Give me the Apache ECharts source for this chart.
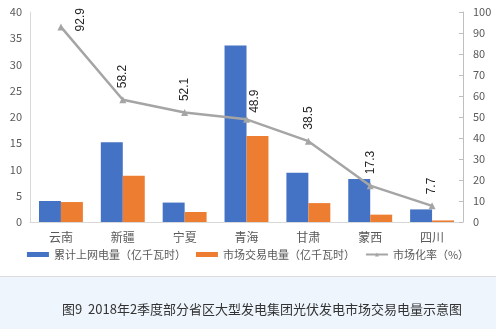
<!DOCTYPE html>
<html><head><meta charset="utf-8">
<script src="https://cdn.jsdelivr.net/npm/echarts@6/dist/echarts.min.js"></script>
<style>html,body{margin:0;padding:0;background:#fff}#c{width:496px;height:329px}</style>
</head><body><div id="c"></div>
<script>
var categories = ['云南','新疆','宁夏','青海','甘肃','蒙西','四川'];
var gridPower = [4.0, 15.2, 3.7, 33.6, 9.4, 8.2, 2.4];
var marketPower = [3.8, 8.8, 1.9, 16.4, 3.6, 1.4, 0.3];
var marketRate = [92.9, 58.2, 52.1, 48.9, 38.5, 17.3, 7.7];
var leftTicks = {min:0, max:40, interval:5};
var rightTicks = {min:0, max:100, interval:10};
var seriesNames = ['累计上网电量（亿千瓦时）','市场交易电量（亿千瓦时）','市场化率（%）'];
var caption = '图9  2018年2季度部分省区大型发电集团光伏发电市场交易电量示意图';

var chart = echarts.init(document.getElementById('c'));
var font = '"Noto Sans CJK SC", "Liberation Sans", sans-serif';
var rateData = marketRate.map(function(v,i){
  if(i===0) return {value:v, label:{offset:[-16,20]}};
  if(i===3) return {value:v, label:{offset:[-5,8]}};
  return v;
});
chart.setOption({
  animation:false,
  textStyle:{fontFamily:font},
  grid:{left:30, right:33, top:12, bottom:107},
  legend:{
    bottom:64, left:'center', itemGap:10, itemWidth:22, itemHeight:5,
    textStyle:{fontSize:11, color:'#595959', fontFamily:font},
    data:[{name:seriesNames[0], icon:'rect'},{name:seriesNames[1], icon:'rect'},{name:seriesNames[2]}]
  },
  xAxis:{type:'category', data:categories,
    axisLine:{lineStyle:{color:'#d9d9d9'}}, axisTick:{show:false},
    axisLabel:{fontSize:12, color:'#595959', margin:9}},
  yAxis:[
    {type:'value', min:leftTicks.min, max:leftTicks.max, interval:leftTicks.interval,
     splitLine:{show:false}, axisLine:{show:true, lineStyle:{color:'#d9d9d9'}}, axisTick:{show:false},
     axisLabel:{fontSize:11, color:'#595959', margin:8}},
    {type:'value', min:rightTicks.min, max:rightTicks.max, interval:rightTicks.interval,
     splitLine:{show:false}, axisLine:{show:true, lineStyle:{color:'#bfbfbf'}},
     axisTick:{show:true, inside:true, length:4, lineStyle:{color:'#bfbfbf'}},
     axisLabel:{fontSize:11, color:'#595959', margin:10}}
  ],
  series:[
    {name:seriesNames[0], type:'bar', data:gridPower, barGap:'0%', barCategoryGap:'29%',
     itemStyle:{color:'#4472C4'}},
    {name:seriesNames[1], type:'bar', data:marketPower,
     itemStyle:{color:'#ED7D31'}},
    {name:seriesNames[2], type:'line', yAxisIndex:1, data:rateData,
     symbol:'triangle', symbolSize:7, lineStyle:{color:'#A5A5A5', width:2.5},
     itemStyle:{color:'#A5A5A5'},
     label:{show:true, position:'top', distance:8, rotate:90, align:'left', verticalAlign:'middle',
       fontSize:12, color:'#262626', fontFamily:'"Liberation Sans", sans-serif'}}
  ],
  graphic:[
    {type:'rect', z:-10, shape:{x:0, y:277, width:496, height:52}, style:{fill:'#EEF5FD'}},
    {type:'rect', z:-9, shape:{x:0, y:276, width:496, height:1}, style:{fill:'#dcdcdc'}},
    {type:'text', left:62, top:303, style:{text:caption, fontSize:13, fill:'#333', fontFamily:font}}
  ]
});
</script></body></html>
